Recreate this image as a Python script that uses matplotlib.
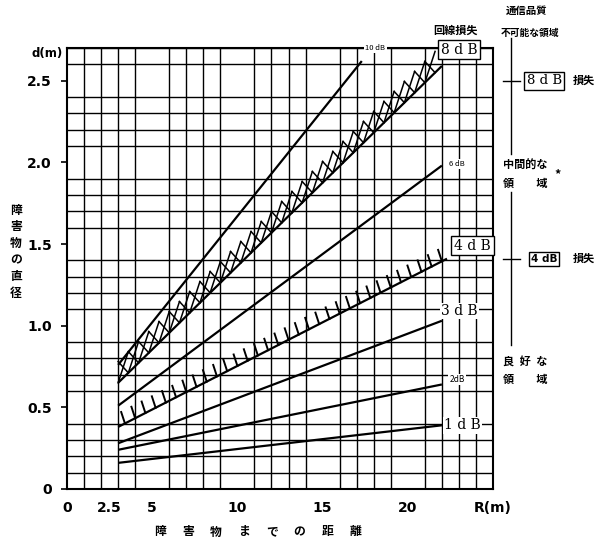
import numpy as np
import matplotlib.pyplot as plt

plt.rcParams['font.family'] = ['Noto Sans CJK JP', 'DejaVu Sans']

# loss lines: obstacle diameter d(m) vs distance R(m)
x_start = 3.0
loss_names = ['10 dB', '8 dB', '6 dB', '4 dB', '3 dB', '2 dB', '1 dB']
x_end = [17.3, 22.0, 22.0, 22.3, 22.0, 22.0, 22.0]
d_start = [0.76, 0.65, 0.51, 0.38, 0.28, 0.24, 0.16]
d_end = [2.62, 2.59, 1.98, 1.41, 1.03, 0.64, 0.39]

# right-hand quality scale (d value of each threshold)
quality_ticks = [2.5, 1.41]
quality_boxes = ['8 d B', '4 dB']

yticks = [0, 0.5, 1.0, 1.5, 2.0, 2.5]
ylabels = ['0', '0.5', '1.0', '1.5', '2.0', '2.5']
xticks = [0, 2.5, 5, 10, 15, 20, 25]
xlabels = ['0', '2.5', '5', '10', '15', '20', 'R(m)']

W, H = 600, 542
fig = plt.figure(figsize=(W / 100, H / 100), dpi=100)
ax = fig.add_axes([67 / W, 53 / H, 426 / W, 441 / H])
ax.set_xlim(0, 25)
ax.set_ylim(0, 2.7)

ax.set_xticks(np.arange(0, 26, 1), minor=True)
ax.set_yticks(np.arange(0, 2.71, 0.1), minor=True)
ax.grid(which='minor', color='black', lw=1.0)
ax.tick_params(which='minor', length=0)
ax.set_xticks(xticks)
ax.set_xticklabels(xlabels, fontsize=10, fontweight='bold', family='DejaVu Sans')
ax.set_yticks(yticks)
ax.set_yticklabels(ylabels, fontsize=10, fontweight='bold', family='DejaVu Sans')
ax.tick_params(axis='x', length=0, pad=9)
ax.tick_params(axis='y', direction='out', length=4, width=1.2, pad=7)
for s in ax.spines.values():
    s.set_linewidth(1.5)

lines = {}
for name, xe, d0, d1 in zip(loss_names, x_end, d_start, d_end):
    xs = np.array([x_start, xe])
    ys = np.array([d0, d1])
    ax.plot(xs, ys, color='black', lw=1.6, solid_capstyle='butt', zorder=3)
    lines[name] = (xs, ys)

# cross hatching on 8 dB line
xs, ys = lines['8 dB']
w, h = 0.3, 0.13
for xc in np.arange(3.0 + w, 22.0 - w, 0.6):
    xa, xb = xc - w, xc + w
    ya, yb = np.interp([xa, xb], xs, ys)
    ax.plot([xa, xb], [ya, yb + h], color='black', lw=1.1, zorder=3)
    ax.plot([xb, xa], [yb, ya + h], color='black', lw=1.1, zorder=3)

# tick hatching on 4 dB line
xs, ys = lines['4 dB']
for xc in np.arange(3.4, 22.2, 0.6):
    yc = np.interp(xc, xs, ys)
    ax.plot([xc, xc - 0.22], [yc, yc + 0.07], color='black', lw=1.4, zorder=3)

white = dict(facecolor='white', edgecolor='none', pad=1)
boxed = dict(boxstyle='square,pad=0.2', facecolor='white', edgecolor='black', lw=1.0)
serif = ['DejaVu Serif']
ax.text(18.1, 2.70, '10 dB', fontsize=5.5, ha='center', va='center', bbox=white, clip_on=False, zorder=5)
ax.text(23.0, 2.69, '8 d B', fontsize=10, family=serif, ha='center', va='center', bbox=boxed, clip_on=False, zorder=5)
ax.text(22.9, 1.99, '6 dB', fontsize=5.5, ha='center', va='center', bbox=white, zorder=5)
ax.text(23.8, 1.49, '4 d B', fontsize=10, family=serif, ha='center', va='center', bbox=boxed, clip_on=False, zorder=5)
ax.text(23.05, 1.09, '3 d B', fontsize=10, family=serif, ha='center', va='center', bbox=white, zorder=5)
ax.text(22.9, 0.67, '2dB', fontsize=6, ha='center', va='center', bbox=white, zorder=5)
ax.text(23.2, 0.39, '1 d B', fontsize=10, family=serif, ha='center', va='center', bbox=white, zorder=5)

# right-hand quality scale
ytr = ax.get_yaxis_transform()
ax.plot([1.042, 1.042], [2.76, 2.05], transform=ytr, color='black', lw=1.0, clip_on=False)
ax.plot([1.042, 1.042], [1.82, 0.88], transform=ytr, color='black', lw=1.0, clip_on=False)
for yq, lab in zip(quality_ticks, quality_boxes):
    ax.plot([1.023, 1.063], [yq, yq], transform=ytr, color='black', lw=1.0, clip_on=False)
    fs = 9.5 if lab == '8 d B' else 7.5
    fam = serif if lab == '8 d B' else ['DejaVu Sans']
    ax.text(1.12, yq, lab, transform=ytr, fontsize=fs, family=fam, fontweight='bold' if lab == '4 dB' else 'normal',
            ha='center', va='center', bbox=boxed, clip_on=False)
    ax.text(1.213, yq, '損失', transform=ytr, fontsize=8, fontweight='bold', ha='center', va='center')


def ft(px, py, s, **kw):
    fig.text(px / W, 1 - py / H, s, **kw)


jp = dict(fontweight='bold', va='center')
ft(527, 11, '通信品質', fontsize=7.5, ha='center', **jp)
ft(530, 33, '不可能な領域', fontsize=7, ha='center', **jp)
ft(456, 30, '回線損失', fontsize=8, ha='center', **jp)
ft(503, 165, '中間的な', fontsize=8, ha='left', **jp)
ft(503, 183, '領　　域', fontsize=8, ha='left', **jp)
ft(558, 175, '*', fontsize=9, ha='center', **jp)
ft(503, 361, '良\u2002好\u2002な', fontsize=8, ha='left', **jp)
ft(503, 379, '領　　域', fontsize=8, ha='left', **jp)
ft(47, 54, 'd(m)', fontsize=8.5, ha='center', fontweight='bold', va='center', family='DejaVu Sans')

for i, ch in enumerate('障害物の直径'):
    ft(16, 210 + i * 16.7, ch, fontsize=8.5, ha='center', **jp)
for i, ch in enumerate('障害物までの距離'):
    ft(160 + i * 27.9, 532, ch, fontsize=8.5, ha='center', **jp)

fig.savefig('out.png', dpi=100)
